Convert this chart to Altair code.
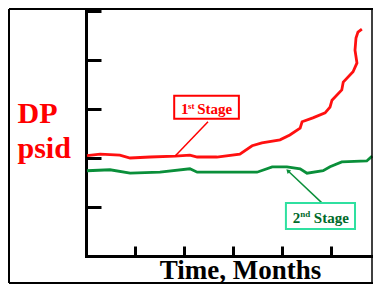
import altair as alt
import pandas as pd

# ---- data (x in months, y in psid units) ----
red_x = [0.02, 0.29, 0.69, 0.90, 1.31, 1.82, 2.12, 2.27, 2.67, 3.14, 3.39, 3.59, 3.96, 4.16,
         4.37, 4.41, 4.63, 4.88, 4.98, 5.02, 5.22, 5.25, 5.45, 5.53, 5.49, 5.51, 5.55, 5.63]
red_y = [2.05, 2.08, 2.06, 2.00, 2.02, 2.04, 2.06, 2.02, 2.02, 2.08, 2.25, 2.31, 2.37, 2.47,
         2.61, 2.74, 2.82, 2.92, 3.04, 3.18, 3.39, 3.55, 3.76, 3.94, 4.20, 4.45, 4.57, 4.63]
green_x = [0.02, 0.49, 0.90, 1.51, 2.12, 2.27, 2.80, 3.49, 3.80, 4.10, 4.37, 4.51, 4.84,
           4.98, 5.22, 5.73, 5.84]
green_y = [1.74, 1.76, 1.69, 1.71, 1.78, 1.71, 1.71, 1.71, 1.82, 1.82, 1.78, 1.69, 1.74,
           1.82, 1.92, 1.94, 2.04]

x_ticks = [0, 1, 2, 3, 4, 5, 6]
y_ticks = [0, 1, 2, 3, 4, 5]

# annotation boxes
box_names = ["1st", "2nd"]
box_x = [1.80, 4.08]
box_x2 = [3.12, 5.49]
box_y = [3.27, 1.08]
box_y2 = [2.80, 0.55]
box_stroke = ["#ff0000", "#2fe0a0"]

# leader lines
lead_x = [1.82, 4.12]
lead_y = [2.04, 1.74]
lead_x2 = [2.49, 4.82]
lead_y2 = [2.74, 1.08]
lead_color = ["#ff0000", "#0a8f3a"]

# annotation texts
big_txt = ["1", "Stage", "2", "Stage"]
big_x = [1.94, 2.27, 4.22, 4.65]
big_y = [2.90, 2.90, 0.67, 0.67]
big_col = ["#ff0000", "#ff0000", "#006a2a", "#006a2a"]
sup_txt = ["st", "nd"]
sup_x = [2.08, 4.37]
sup_y = [3.00, 0.79]
sup_col = ["#ff0000", "#006a2a"]

lines = pd.DataFrame({
    "x": red_x + green_x,
    "y": red_y + green_y,
    "s": ["1st"] * len(red_x) + ["2nd"] * len(green_x),
    "o": list(range(len(red_x))) + list(range(len(green_x))),
})

W, H = 287, 245
xs = alt.Scale(domain=[0, W / 49.0], nice=False, zero=False)
ys = alt.Scale(domain=[0, 5], nice=False, zero=False)

x_axis = alt.Axis(orient="top", offset=-H, values=x_ticks, labels=False, grid=False,
                  tickSize=10, tickWidth=3, tickColor="black", domainWidth=3,
                  domainColor="black", domainCap="square",
                  title="Time, Months", titleFont="Liberation Serif", titleFontSize=27,
                  titleFontWeight="bold", titleColor="black", titleX=154, titleY=22,
                  titleAlign="center", titleBaseline="alphabetic")
y_axis = alt.Axis(orient="right", offset=-W, values=y_ticks, labels=False, grid=False,
                  tickSize=15, tickWidth=3, tickColor="black", domainWidth=3,
                  domainColor="black", domainCap="square",
                  title=["DP", "psid"], titleFont="Liberation Serif", titleFontSize=30,
                  titleFontWeight="bold", titleColor="#ff0000", titleAngle=0,
                  titleX=-69, titleY=111, titleAlign="left", titleBaseline="alphabetic",
                  titleLineHeight=35)


def X(f="x"):
    return alt.X(f + ":Q", scale=xs, axis=x_axis)


def Y(f="y"):
    return alt.Y(f + ":Q", scale=ys, axis=y_axis)


line_layer = alt.Chart(lines).mark_line(strokeWidth=2.8).encode(
    x=X(), y=Y(),
    color=alt.Color("s:N", scale=alt.Scale(domain=["1st", "2nd"], range=["#ff1010", "#0a8f3a"]),
                    legend=None),
    order="o:Q",
)

boxes = pd.DataFrame({"n": box_names, "x": box_x, "x2": box_x2, "y": box_y, "y2": box_y2,
                      "c": box_stroke})
box_layer = alt.Chart(boxes).mark_rect(fill="white", strokeWidth=2).encode(
    x=X(), x2="x2:Q", y=Y(), y2="y2:Q",
    stroke=alt.Stroke("c:N", scale=None),
)

leads = pd.DataFrame({"x": lead_x, "y": lead_y, "x2": lead_x2, "y2": lead_y2, "c": lead_color})
lead_layer = alt.Chart(leads).mark_rule(strokeWidth=1.5).encode(
    x=X(), x2="x2:Q", y=Y(), y2="y2:Q",
    color=alt.Color("c:N", scale=None),
)

arrow = pd.DataFrame({"x": [lead_x[1]], "y": [lead_y[1]]})
arrow_layer = alt.Chart(arrow).mark_point(shape="triangle-up", filled=True, size=25,
                                          angle=315, color="#0a8f3a", opacity=1).encode(
    x=X(), y=Y())

big = pd.DataFrame({"t": big_txt, "x": big_x, "y": big_y, "c": big_col})
big_layer = alt.Chart(big).mark_text(font="Liberation Serif", fontSize=15, fontWeight="bold",
                                     align="left", baseline="alphabetic").encode(
    x=X(), y=Y(), text="t:N", color=alt.Color("c:N", scale=None))

sup = pd.DataFrame({"t": sup_txt, "x": sup_x, "y": sup_y, "c": sup_col})
sup_layer = alt.Chart(sup).mark_text(font="Liberation Serif", fontSize=9, fontWeight="bold",
                                     align="left", baseline="alphabetic").encode(
    x=X(), y=Y(), text="t:N", color=alt.Color("c:N", scale=None))

# outer frame
frame = pd.DataFrame({"k": [0]})
f_left = alt.Chart(frame).mark_rule(color="black", strokeWidth=2).encode(
    x=alt.value(-77), y=alt.value(-2), y2=alt.value(272))
f_right = alt.Chart(frame).mark_rule(color="black", strokeWidth=1.5).encode(
    x=alt.value(286), y=alt.value(-2), y2=alt.value(272))
f_top = alt.Chart(frame).mark_rule(color="black", strokeWidth=2).encode(
    x=alt.value(-77), x2=alt.value(287), y=alt.value(-2))
f_bot = alt.Chart(frame).mark_rule(color="black", strokeWidth=2).encode(
    x=alt.value(-77), x2=alt.value(287), y=alt.value(272))

chart = alt.layer(line_layer, lead_layer, arrow_layer, box_layer, big_layer, sup_layer,
                  f_left, f_right, f_top, f_bot).properties(
    width=W, height=H,
    autosize=alt.AutoSizeParams(type="none"),
    padding={"left": 78, "top": 3, "right": 0, "bottom": 32},
).configure(background="white").configure_view(stroke=None)

chart.save("out.html", embed_options={"renderer": "svg", "actions": False})
